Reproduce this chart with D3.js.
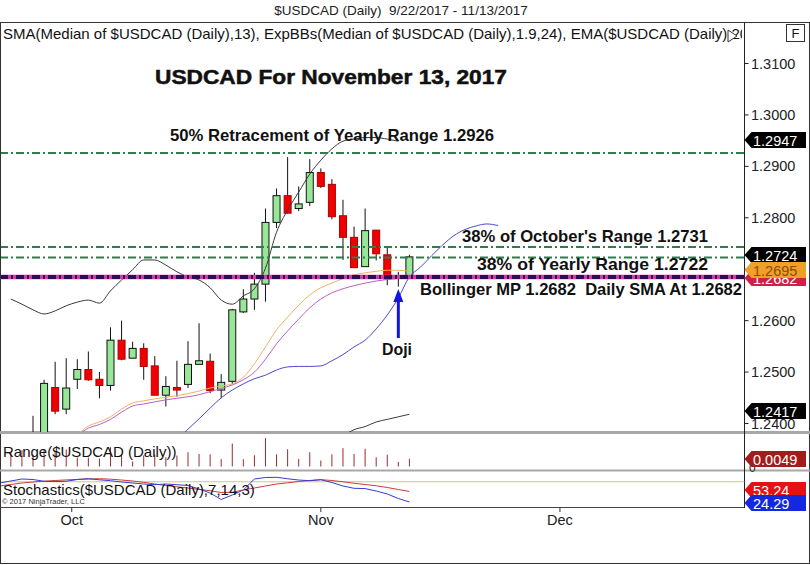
<!DOCTYPE html>
<html><head><meta charset="utf-8">
<script src="https://cdn.jsdelivr.net/npm/d3@7/dist/d3.min.js"></script>
<style>
body{margin:0;background:#fff}
svg{display:block}
text{font-family:"Liberation Sans",Arial,sans-serif;white-space:pre}
</style>
</head><body>
<svg id="chart" width="810" height="565"></svg>
<script>
// ---------------- DATA ----------------
const dates = ["9/22","9/25","9/26","9/27","9/28","9/29","10/2","10/3","10/4","10/5","10/6","10/9","10/10","10/11","10/12","10/13","10/16","10/17","10/18","10/19","10/20","10/23","10/24","10/25","10/26","10/27","10/30","10/31","11/1","11/2","11/3","11/6","11/7","11/8","11/9","11/10","11/13"];
const openV  = [1.2345,1.2330,1.2360,1.2380,1.2470,1.2428,1.2486,1.2505,1.2486,1.2474,1.2562,1.2527,1.2546,1.2512,1.2455,1.2470,1.2476,1.2515,1.2521,1.2465,1.2482,1.2617,1.2642,1.2671,1.2791,1.2843,1.2818,1.2830,1.2888,1.2865,1.2804,1.2762,1.2705,1.2776,1.2728,1.2685,1.2686];
const highV  = [1.2375,1.2378,1.2415,1.2485,1.2520,1.2527,1.2525,1.2540,1.2500,1.2587,1.2600,1.2559,1.2556,1.2531,1.2492,1.2522,1.2560,1.2595,1.2536,1.2496,1.2623,1.2661,1.2693,1.2818,1.2857,1.2918,1.2861,1.2914,1.2896,1.2875,1.2835,1.2783,1.2818,1.2776,1.2744,1.2695,1.2728];
const lowV   = [1.2287,1.2275,1.2340,1.2378,1.2418,1.2418,1.2467,1.2483,1.2449,1.2464,1.2523,1.2527,1.2485,1.2455,1.2433,1.2452,1.2469,1.2515,1.2459,1.2449,1.2477,1.2615,1.2621,1.2637,1.2780,1.2808,1.2813,1.2823,1.2858,1.2797,1.2718,1.2703,1.2705,1.2717,1.2669,1.2666,1.2685];
const closeV = [1.2330,1.2360,1.2375,1.2478,1.2424,1.2469,1.2505,1.2485,1.2474,1.2562,1.2525,1.2546,1.2511,1.2455,1.2472,1.2465,1.2515,1.2522,1.2464,1.2480,1.2621,1.2642,1.2671,1.2791,1.2843,1.2809,1.2827,1.2888,1.2861,1.2802,1.2762,1.2703,1.2775,1.2730,1.2681,1.2684,1.2724];

// indicator series (start = bar index of first value)
const upperStart = 0;
const upperBand = [1.2642,1.2632,1.2621,1.2613,1.2619,1.2629,1.2636,1.2640,1.2634,1.2658,1.2679,1.2699,1.2718,1.2718,1.2708,1.2695,1.2685,1.2679,1.2664,1.2640,1.2632,1.2648,1.2662,1.2702,1.2772,1.2815,1.2850,1.2885,1.2912,1.2934,1.2949,1.2953,1.2956,1.2956,1.2953,1.2949];
const lowerStart = 15;
const lowerBand = [1.2368,1.2389,1.2409,1.2430,1.2450,1.2465,1.2477,1.2487,1.2494,1.2504,1.2510,1.2511,1.2511,1.2512,1.2522,1.2534,1.2549,1.2562,1.2584,1.2611,1.2644,1.2685,1.2704,1.2726,1.2747,1.2765,1.2777,1.2784,1.2788,1.2785];
const emaStart = 6;
const emaLine = [1.2378,1.2395,1.2403,1.2413,1.2428,1.2440,1.2444,1.2448,1.2451,1.2454,1.2458,1.2463,1.2469,1.2473,1.2477,1.2490,1.2516,1.2549,1.2582,1.2607,1.2630,1.2650,1.2664,1.2673,1.2682,1.2689,1.2693,1.2696,1.2698,1.2698,1.2696];
const smaStart = 6;
const smaLine = [1.2376,1.2391,1.2398,1.2408,1.2422,1.2434,1.2438,1.2442,1.2446,1.2449,1.2452,1.2456,1.2462,1.2468,1.2475,1.2485,1.2500,1.2525,1.2555,1.2580,1.2603,1.2625,1.2642,1.2654,1.2662,1.2668,1.2673,1.2677,1.2680,1.2682,1.2684];
const tailStart = 30;
const tailLine = [1.2375,1.2388,1.2394,1.2403,1.2408,1.2413,1.2418];

const rangeV = [0.0088,0.0103,0.0075,0.0107,0.0102,0.0109,0.0058,0.0057,0.0051,0.0123,0.0077,0.0032,0.0071,0.0076,0.0059,0.0070,0.0091,0.0080,0.0077,0.0047,0.0146,0.0046,0.0072,0.0181,0.0077,0.0110,0.0048,0.0091,0.0038,0.0078,0.0117,0.0080,0.0113,0.0059,0.0075,0.0029,0.0049];

const stochStart = -1;
const stochK = [76.6,82.1,87.6,86.2,81.3,80.7,81.3,86.2,88.4,85.4,82.9,79.3,76.6,73.8,71.9,73.8,71.9,69.7,60.1,49.0,31.1,43.5,57.3,87.6,91.7,92.3,88.2,84.8,82.9,85.7,78.0,68.3,62.0,61.2,54.5,46.3,33.9,24.29];
const stochD = [68.3,72.5,76.6,79.3,81.5,83.5,85.1,86.5,87.6,88.4,87.1,84.8,82.1,78.5,73.8,69.7,66.1,62.8,58.7,55.4,50.4,51.2,57.3,62.8,68.3,73.8,77.1,80.7,83.5,85.7,83.5,79.9,76.0,72.5,68.9,64.2,58.7,53.24];

const priceTicks = [1.31,1.30,1.29,1.28,1.27,1.26,1.25,1.24];
const monthLabels = ["Oct","Nov","Dec"];
const monthPos = [5.5,28,49.6];   // bar-index positions of month boundaries

const hLines = [
  {v:1.2926, color:"#2f7d4c"},
  {v:1.2743, color:"#2f7d4c"},
  {v:1.2723, color:"#2f7d4c"}
];
const mpLevel = 1.2685;

const tags = [
  {cy:140, txt:"1.2947", fill:"#000", col:"#fff"},
  {cy:255, txt:"1.2724", fill:"#000", col:"#fff"},
  {cy:278, txt:"1.2682", fill:"#d0204a", col:"#fff"},
  {cy:270, txt:"1.2695", fill:"#f0a028", col:"#8a4d00"},
  {cy:411, txt:"1.2417", fill:"#000", col:"#fff"}
];

// ---------------- LAYOUT ----------------
const svg = d3.select("#chart");
const axisX = 744.5;
const main = {top:46, bottom:432};
const x = d3.scaleLinear().domain([0,36]).range([10.86,409.4]);
const y = d3.scaleLinear().domain([1.24,1.31]).range([423.5,63.5]);
const yR = d3.scaleLinear().domain([0,0.02]).range([466.5,435.1]);
const yS = d3.scaleLinear().domain([0,100]).range([510.8,474.5]);

const defs = svg.append("defs");
defs.append("clipPath").attr("id","cMain").append("rect").attr("x",1).attr("y",main.top).attr("width",axisX-1).attr("height",main.bottom-main.top);
defs.append("clipPath").attr("id","cRange").append("rect").attr("x",1).attr("y",435).attr("width",axisX-1).attr("height",34);
defs.append("clipPath").attr("id","cStoch").append("rect").attr("x",1).attr("y",472).attr("width",axisX-1).attr("height",35);
defs.append("clipPath").attr("id","cLeg").append("rect").attr("x",0).attr("y",22).attr("width",742).attr("height",24);

svg.append("rect").attr("width",810).attr("height",565).attr("fill","#fff");

// top title
svg.append("text").attr("x",401).attr("y",15).attr("text-anchor","middle")
  .attr("font-family","Liberation Sans Narrow, Liberation Sans").attr("font-size",13.5).attr("fill","#222")
  .text("$USDCAD (Daily)  9/22/2017 - 11/13/2017");

// frame
svg.append("line").attr("x1",0).attr("x2",810).attr("y1",22.5).attr("y2",22.5).attr("stroke","#333");
svg.append("line").attr("x1",0.5).attr("x2",0.5).attr("y1",22).attr("y2",564).attr("stroke","#333");
svg.append("line").attr("x1",809.5).attr("x2",809.5).attr("y1",22).attr("y2",564).attr("stroke","#333");
svg.append("line").attr("x1",0).attr("x2",810).attr("y1",563.5).attr("y2",563.5).attr("stroke","#333");

// legend
svg.append("g").attr("clip-path","url(#cLeg)").append("text").attr("x",3).attr("y",39).attr("font-size",15).attr("fill","#111")
  .text("SMA(Median of $USDCAD (Daily),13), ExpBBs(Median of $USDCAD (Daily),1.9,24), EMA($USDCAD (Daily),20)");
svg.append("path").attr("d","M728,30 L737,36 L728,42 Z").attr("fill","#fff").attr("stroke","#333");
svg.append("rect").attr("x",786.5).attr("y",24.5).attr("width",18).attr("height",17).attr("fill","#fff").attr("stroke","#333");
svg.append("text").attr("x",795.5).attr("y",38).attr("text-anchor","middle").attr("font-size",13).attr("fill","#111").text("F");

// panel separators
svg.append("rect").attr("x",0).attr("y",431).attr("width",810).attr("height",3).attr("fill","#a8a8a8");
svg.append("rect").attr("x",0).attr("y",469.5).attr("width",810).attr("height",2).attr("fill","#a8a8a8");
svg.append("line").attr("x1",0).attr("x2",axisX).attr("y1",507.5).attr("y2",507.5).attr("stroke","#444");
svg.append("line").attr("x1",axisX).attr("x2",axisX).attr("y1",22).attr("y2",508).attr("stroke","#222");

// price axis
const gy = svg.append("g");
priceTicks.forEach(t=>{
  gy.append("line").attr("x1",axisX).attr("x2",axisX+4).attr("y1",y(t)).attr("y2",y(t)).attr("stroke","#222");
  gy.append("text").attr("x",751).attr("y",y(t)+5).attr("font-size",14.5).attr("fill","#222").text(t.toFixed(4));
});

// ---------------- MAIN PANEL ----------------
const gm = svg.append("g").attr("clip-path","url(#cMain)");
const idx = d3.range(dates.length);
gm.selectAll("line.wick").data(idx).join("line")
  .attr("x1",i=>x(i)).attr("x2",i=>x(i)).attr("y1",i=>y(highV[i])).attr("y2",i=>y(lowV[i]))
  .attr("stroke","#111").attr("stroke-width",1);
gm.selectAll("rect.body").data(idx).join("rect")
  .attr("x",i=>x(i)-3.5).attr("width",7)
  .attr("y",i=>y(Math.max(openV[i],closeV[i])))
  .attr("height",i=>Math.max(1.2,Math.abs(y(openV[i])-y(closeV[i]))))
  .attr("fill",i=>closeV[i]>=openV[i]?"#98e698":"#f00000")
  .attr("stroke",i=>closeV[i]>=openV[i]?"#111":"#b00000").attr("stroke-width",1);

const lineGen = start => d3.line().x((d,i)=>x(start+i)).y(d=>y(d)).curve(d3.curveMonotoneX);
gm.append("path").attr("d",lineGen(upperStart)(upperBand)).attr("fill","none").attr("stroke","#3a3a3a").attr("stroke-width",1);
gm.append("path").attr("d",lineGen(tailStart)(tailLine)).attr("fill","none").attr("stroke","#3a3a3a").attr("stroke-width",1);
gm.append("path").attr("d",lineGen(emaStart)(emaLine)).attr("fill","none").attr("stroke","#f2b060").attr("stroke-width",1);
gm.append("path").attr("d",lineGen(smaStart)(smaLine)).attr("fill","none").attr("stroke","#b463c4").attr("stroke-width",1);
gm.append("path").attr("d",lineGen(lowerStart)(lowerBand)).attr("fill","none").attr("stroke","#4b4bc8").attr("stroke-width",1);

hLines.forEach(h=>{
  gm.append("line").attr("x1",0).attr("x2",axisX).attr("y1",y(h.v)).attr("y2",y(h.v))
    .attr("stroke",h.color).attr("stroke-width",2).attr("stroke-dasharray","8,3,2,3");
});
gm.append("line").attr("x1",0).attr("x2",axisX).attr("y1",y(mpLevel)).attr("y2",y(mpLevel))
  .attr("stroke","#d83aa0").attr("stroke-width",4.5);
gm.append("line").attr("x1",0).attr("x2",axisX).attr("y1",y(mpLevel)).attr("y2",y(mpLevel))
  .attr("stroke","#2c0c54").attr("stroke-width",4).attr("stroke-dasharray","8,3,2,3");

// annotations
const ann = svg.append("g").attr("font-weight","bold").attr("fill","#111");
ann.append("text").attr("x",155).attr("y",84).attr("font-family","DejaVu Sans").attr("font-size",19.5)
  .attr("stroke","#111").attr("stroke-width",0.5)
  .attr("textLength",352).attr("lengthAdjust","spacingAndGlyphs").text("USDCAD For November 13, 2017");
ann.append("text").attr("x",170).attr("y",141).attr("font-size",16.5).attr("textLength",324).attr("lengthAdjust","spacingAndGlyphs").text("50% Retracement of Yearly Range 1.2926");
ann.append("text").attr("x",462).attr("y",242).attr("font-size",16.5).attr("textLength",246).attr("lengthAdjust","spacingAndGlyphs").text("38% of October's Range 1.2731");
ann.append("text").attr("x",477).attr("y",270).attr("font-size",16.5).attr("textLength",231).attr("lengthAdjust","spacingAndGlyphs").text("38% of Yearly Range 1.2722");
ann.append("text").attr("x",420).attr("y",295).attr("font-size",16.5).attr("textLength",322).attr("lengthAdjust","spacingAndGlyphs").text("Bollinger MP 1.2682  Daily SMA At 1.2682");
ann.append("text").attr("x",382).attr("y",355).attr("font-size",16.5).attr("textLength",30).attr("lengthAdjust","spacingAndGlyphs").text("Doji");
const ax = x(35);
svg.append("line").attr("x1",ax).attr("x2",ax).attr("y1",300).attr("y2",338).attr("stroke","#1414e0").attr("stroke-width",3);
svg.append("path").attr("d",`M${ax},289 L${ax-5},302 L${ax+5},302 Z`).attr("fill","#1414e0");

// ---------------- RANGE PANEL ----------------
const gr = svg.append("g").attr("clip-path","url(#cRange)");
gr.selectAll("line").data(idx).join("line")
  .attr("x1",i=>x(i)).attr("x2",i=>x(i)).attr("y1",yR(0)).attr("y2",i=>yR(rangeV[i]))
  .attr("stroke","#9a2c2c").attr("stroke-width",1);
svg.append("text").attr("x",3).attr("y",457).attr("font-size",15).attr("fill","#111").text("Range($USDCAD (Daily))");

// ---------------- STOCH PANEL ----------------
const gs = svg.append("g").attr("clip-path","url(#cStoch)");
gs.append("line").attr("x1",0).attr("x2",axisX).attr("y1",yS(80)).attr("y2",yS(80)).attr("stroke","#c9c98f").attr("stroke-width",1);
const sLine = d3.line().x((d,i)=>x(stochStart+i)).y(d=>yS(d));
gs.append("path").attr("d",sLine(stochD)).attr("fill","none").attr("stroke","#cc3a3a").attr("stroke-width",1);
gs.append("path").attr("d",sLine(stochK)).attr("fill","none").attr("stroke","#3a3ad6").attr("stroke-width",1);
svg.append("text").attr("x",3).attr("y",495).attr("font-size",15).attr("fill","#111").text("Stochastics($USDCAD (Daily),7,14,3)");
svg.append("text").attr("x",2).attr("y",504).attr("font-size",7.5).attr("fill","#333").text("© 2017 NinjaTrader, LLC");

// ---------------- X AXIS ----------------
monthLabels.forEach((m,i)=>{
  const px = x(monthPos[i]);
  svg.append("line").attr("x1",px).attr("x2",px).attr("y1",507).attr("y2",512).attr("stroke","#333");
  svg.append("text").attr("x",px).attr("y",525).attr("text-anchor","middle").attr("font-size",14.5).attr("fill","#222").text(m);
});

// ---------------- TAGS ----------------
function tag(cy, txt, fill, col){
  const g = svg.append("g");
  g.append("path").attr("d",`M${axisX},${cy} L${axisX+7},${cy-8} L806,${cy-8} L806,${cy+8} L${axisX+7},${cy+8} Z`).attr("fill",fill);
  g.append("text").attr("x",753).attr("y",cy+5.5).attr("font-size",14.5).attr("fill",col).text(txt);
}
tags.forEach(t=>tag(t.cy, t.txt, t.fill, t.col));
svg.append("text").attr("x",749).attr("y",472).attr("font-size",12).attr("fill","#222").text("0");
tag(459, "0.0049", "#a31c1c", "#fff");
tag(490, "53.24", "#e81010", "#fff");
tag(503, "24.29", "#1428e0", "#fff");
</script>
</body></html>
